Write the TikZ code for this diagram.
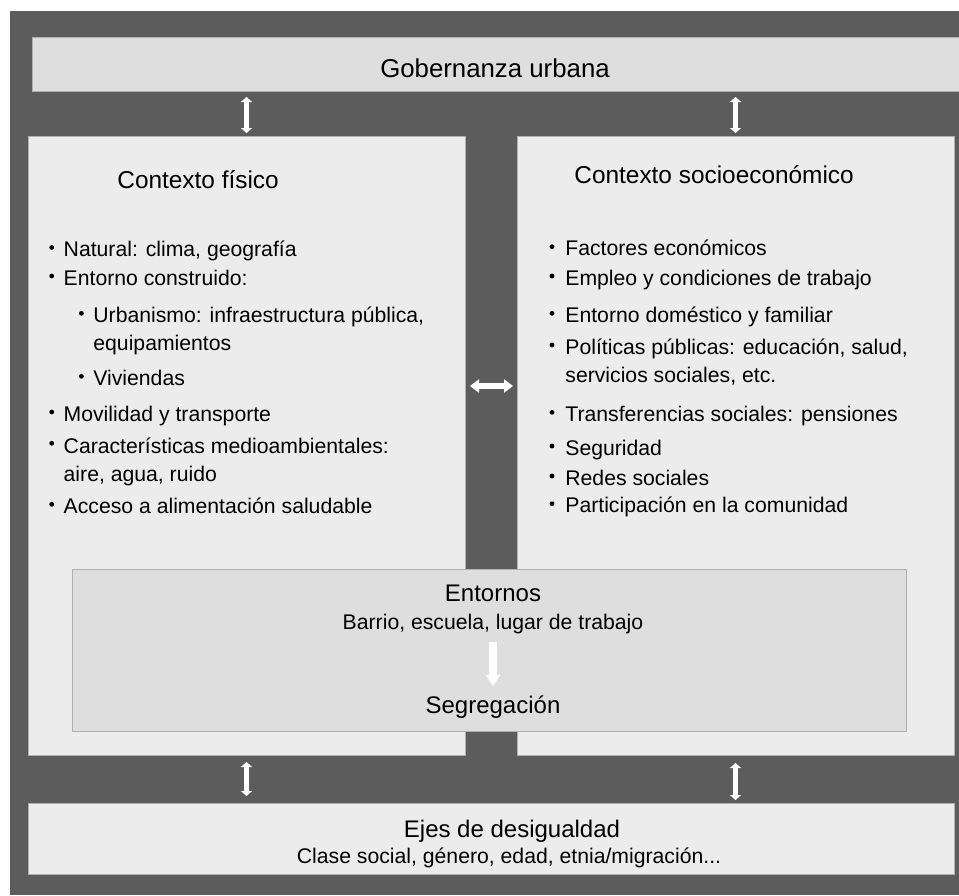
\documentclass[tikz,border=0pt]{standalone}
\usepackage{fontspec}
\setmainfont{Liberation Sans}
\usetikzlibrary{arrows.meta}

\definecolor{bgdark}{HTML}{5C5C5C}
\definecolor{boxlight}{HTML}{ECECEC}
\definecolor{boxmid}{HTML}{DEDEDE}
\definecolor{boxline}{HTML}{B0B0B0}

\begin{document}
\begin{tikzpicture}[x=0.5pt, y=-0.5pt, line join=miter]
    \tikzstyle{box}=[draw=boxline, line width=0.5pt, inner sep=0pt, outer sep=0pt]
    \tikzstyle{txt}=[inner sep=0pt, anchor=base, text=black]
    \tikzstyle{item}=[inner sep=0pt, anchor=base west, align=left, text=black, font=\fontsize{10.6}{14}\selectfont]
    \tikzstyle{vlink}=[white, line width=2.25pt, {Triangle[width=5.5pt,length=2.5pt]}-{Triangle[width=5.5pt,length=2.5pt]}]
    \tikzstyle{hlink}=[white, line width=3pt, {Triangle[width=6.5pt,length=4.5pt]}-{Triangle[width=6.5pt,length=4.5pt]}]
    \tikzstyle{dlink}=[white, line width=4pt, -{Triangle[width=7pt,length=5.5pt]}]

    \useasboundingbox (0,0) rectangle (959,895);
    \fill[bgdark] (10,11) rectangle (959,895);

    % boxes
    \node[box, fill=boxmid, minimum width=465pt, minimum height=27pt] (gob) at (497,64) {};
    \node[box, fill=boxlight, minimum width=218.5pt, minimum height=309.5pt] (fis) at (246.5,445.5) {};
    \node[box, fill=boxlight, minimum width=218.5pt, minimum height=309.5pt] (soc) at (735.5,445.5) {};
    \node[box, fill=boxmid, minimum width=417pt, minimum height=81pt] (ent) at (489,650) {};
    \node[box, fill=boxlight, minimum width=463pt, minimum height=35.5pt] (ejes) at (491,838.5) {};

    % titles
    \node[txt, font=\fontsize{12.9}{15}\selectfont] (gobtxt) at (495,77) {Gobernanza urbana};
    \node[txt, anchor=base west, font=\fontsize{12.2}{15}\selectfont] (fistxt) at (117,188.3) {Contexto físico};
    \node[txt, anchor=base west, font=\fontsize{12.2}{15}\selectfont] (soctxt) at (574,183.3) {Contexto socioeconómico};
    \node[txt, font=\fontsize{12}{15}\selectfont] (enttxt) at (493,601.7) {Entornos};
    \node[txt, font=\fontsize{10.6}{14}\selectfont] (bartxt) at (493,629) {Barrio, escuela, lugar de trabajo};
    \node[txt, font=\fontsize{12}{15}\selectfont] (segtxt) at (493,713) {Segregación};
    \node[txt, font=\fontsize{12}{15}\selectfont] (ejestxt) at (512,837) {Ejes de desigualdad};
    \node[txt, font=\fontsize{10.6}{14}\selectfont] (clasetxt) at (509,863) {Clase social, género, edad, etnia/migración...};

    % bullet lists (x / bullet line / last line / text)
    \foreach \bx/\bl/\by/\t [count=\i] in {63.3/256.5/256.5/{Natural: clima, geografía},
            63.3/285/285/{Entorno construido:},
            93/322.3/350/{Urbanismo: infraestructura pública,\\equipamientos},
            93/385.3/385.3/{Viviendas},
            63.3/421/421/{Movilidad y transporte},
            63.3/452.3/481/{Características medioambientales:\\aire, agua, ruido},
            63.3/513.3/513.3/{Acceso a alimentación saludable}} {
        \node[item] (fi\i) at (\bx,\by) {\t};
        \fill[black] (\bx-11.6,\bl-9) circle (1.2pt);
    }
    \foreach \bx/\bl/\by/\t [count=\i] in {565/255.7/255.7/{Factores económicos},
            565/285/285/{Empleo y condiciones de trabajo},
            565/322.3/322.3/{Entorno doméstico y familiar},
            565/354/382.7/{Políticas públicas: educación, salud,\\servicios sociales, etc.},
            565/421.3/421.3/{Transferencias sociales: pensiones},
            565/455/455/{Seguridad},
            565/485/485/{Redes sociales},
            565/512.7/512.7/{Participación en la comunidad}} {
        \node[item] (so\i) at (\bx,\by) {\t};
        \fill[black] (\bx-13,\bl-9) circle (1.2pt);
    }

    % links
    \coordinate (hmid) at (491,386);
    \draw[vlink, shorten <=3pt, shorten >=1.5pt] (gob.south -| fis.north) -- (fis.north);
    \draw[vlink, shorten <=3pt, shorten >=1.5pt] (gob.south -| soc.north) -- (soc.north);
    \draw[hlink, shorten <=2.5pt, shorten >=2pt] (hmid -| fis.east) -- (hmid -| soc.west);
    \draw[dlink, shorten <=4.25pt, shorten >=4.5pt] (bartxt) -- (segtxt);
    \draw[vlink, shorten <=3.5pt, shorten >=3.5pt] (fis.south) -- (fis.south |- ejes.north);
    \draw[vlink, shorten <=4pt, shorten >=1.5pt] (soc.south) -- (soc.south |- ejes.north);
\end{tikzpicture}
\end{document}
